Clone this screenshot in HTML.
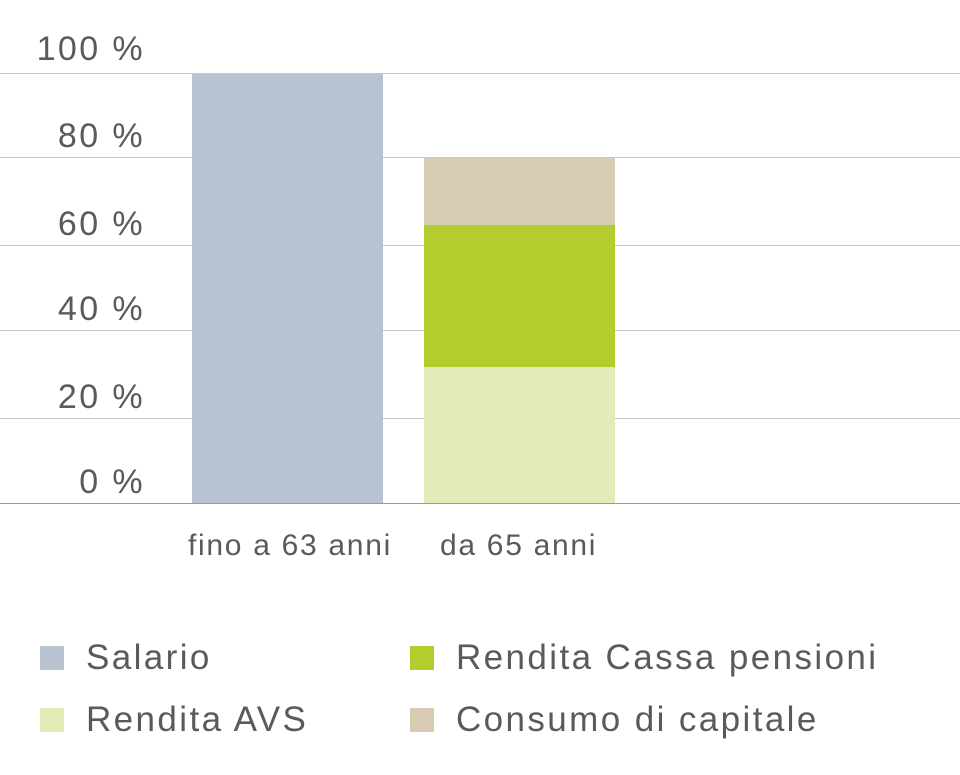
<!DOCTYPE html>
<html><head><meta charset="utf-8"><style>
html,body{margin:0;padding:0;background:#fff;width:960px;height:775px;overflow:hidden;font-family:"Liberation Sans",sans-serif;color:#555}
.a{position:absolute}
.g{position:absolute;left:0;width:960px;height:1px;background:#c8c8c8}
.yl{position:absolute;right:815px;font-size:34px;line-height:34px;color:#5a5a5a;text-align:right;letter-spacing:2.4px}
.xl{position:absolute;font-size:30px;line-height:30px;color:#5a5a5a;top:531px;letter-spacing:1.7px}
.sq{position:absolute;width:24px;height:24px}
.lt{position:absolute;font-size:35px;line-height:35px;color:#5a5a5a;letter-spacing:2.4px}
</style></head><body>
<div class="g" style="top:73px"></div>
<div class="g" style="top:157px"></div>
<div class="g" style="top:245px"></div>
<div class="g" style="top:330px"></div>
<div class="g" style="top:418px"></div>
<div class="g" style="top:503px;background:#999"></div>
<div class="yl" style="top:32px">100 %</div>
<div class="yl" style="top:119px">80 %</div>
<div class="yl" style="top:207px">60 %</div>
<div class="yl" style="top:292px">40 %</div>
<div class="yl" style="top:380px">20 %</div>
<div class="yl" style="top:465px">0 %</div>
<div class="a" style="left:192px;top:74px;width:191px;height:429px;background:#b8c2d1"></div>
<div class="a" style="left:424px;top:158px;width:191px;height:67px;background:#d8cbb4"></div>
<div class="a" style="left:424px;top:225px;width:191px;height:142px;background:#b5cc2e"></div>
<div class="a" style="left:424px;top:367px;width:191px;height:136px;background:#e3ebb8"></div>
<div class="xl" style="left:188px">fino a 63 anni</div>
<div class="xl" style="left:440px">da 65 anni</div>
<div class="sq" style="left:40px;top:646px;background:#b8c2d1"></div>
<div class="lt" style="left:86px;top:640px">Salario</div>
<div class="sq" style="left:410px;top:646px;background:#b5cc2e"></div>
<div class="lt" style="left:456px;top:640px">Rendita Cassa pensioni</div>
<div class="sq" style="left:40px;top:708px;background:#e3ebb8"></div>
<div class="lt" style="left:86px;top:702px">Rendita AVS</div>
<div class="sq" style="left:410px;top:708px;background:#d8cbb4"></div>
<div class="lt" style="left:456px;top:702px">Consumo di capitale</div>
</body></html>
